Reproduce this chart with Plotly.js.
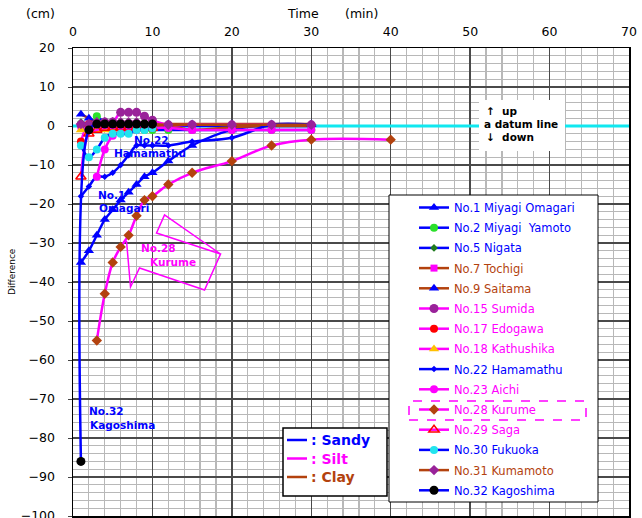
<!DOCTYPE html>
<html>
<head>
<meta charset="utf-8">
<script src="https://cdn.plot.ly/plotly-3.0.1.min.js"></script>
<style>
  html, body { margin: 0; padding: 0; background: #fff; }
  #chart { width: 642px; height: 518px; }
</style>
</head>
<body>
<div id="chart"></div>
<script>
// Settlement difference (cm) against elapsed time (min) at each site.

// ---- time axes (min) ----
const tFull  = [1, 2, 3, 4, 5, 6, 7, 8, 9, 10, 12, 15, 20, 25, 30];
const tEarly = [1, 2, 3, 4, 5, 6, 7, 8, 9, 10];
const tFrom3 = [3, 4, 5, 6, 7, 8, 9, 10, 12, 15, 20, 25, 30];
const tKurume = [3, 4, 5, 6, 7, 8, 9, 10, 12, 15, 20, 25, 30, 40];

// ---- difference values (cm) ----
const omagariY    = [-35, -32, -28, -24, -21.5, -19, -17, -15, -13, -12, -9, -5, -1, 0.3, 0.3];
const yamotoY     = [2.5, 1, 0, -0.5, -1, -1, -1, -1, -1, -1, -1, -1, -1];
const nigataY     = [1, 0.5, 0, 0, 0, 0, 0, 0, 0, 0, 0, 0, 0, 0, 0];
const tochigiY    = [0, 0, 0, 0, 0, 0, 0, 0, 0, 0, 0, -1, -0.3, 0, 0];
const saitamaY    = [3, 2, 1, 0.5, 0.5, 0.5, 0.5, 0.5, 0.5, 0.5, 0.5, 0.5, 0.5, 0.5, 0.5];
const sumidaY     = [0.3, 0.3, 0.5, 1, 1, 3.5, 3.5, 3.5, 2.5, 1.5, 0.3, 0.3, 0.3, 0.3, 0.3];
const edogawaY    = [-4, 0.5, 0.5, 0.5, 0.5, 0.5, 0.5, 0.5, 0.5, 0.5];
const kathushikaY = [-1, -1.5, -1, -1, -1, -0.5, -0.5, -0.5, -0.5, -0.5];
const hamamatsuY  = [-18, -15.5, -13, -13, -12, -10, -7.5, -5, -5, -5, -5, -4, -3, 0.3, 0.3];
const aichiY      = [-13, -6, -2.5, -1.5, -1, -1, -0.5, -0.5, -0.5, -1, -1, -1, -1];
const kurumeY     = [-55, -43, -35, -31, -28, -23, -19, -18, -15, -12, -9, -5, -3.5, -3.5];
const sagaY       = [-13, -2, -1, -0.5, -0.5, -0.5, -0.5, -0.5, -0.5, -0.5];
const fukuokaY    = [-5, -8, -6, -3, -2, -2, -2, -1, -1, -0.5];
const kumamotoY   = [0.5, 0.5, 1, 1, 1, 1, 1, 1, 0.5, 0.5, 0.3, 0.3, 0.3, 0.3, 0.3];
const kagoshimaY  = [-86, -1, 0.5, 0.5, 0.5, 0.5, 0.5, 0.5, 0.5, 0.5];

// datum line
const datumX = [0, 70];
const datumY = [0, 0];

// ---- soil type colours ----
const SANDY = '#0000FF';
const SILT  = '#FF00FF';
const CLAY  = '#B3420E';
const PURPLE = '#992299';

const FONT = 'DejaVu Sans, Arial, sans-serif';

function site(name, x, y, lineColor, textColor, symbol, mColor, mSize, extra) {
  const t = {
    type: 'scatter', mode: 'lines+markers',
    x: x, y: y,
    name: '<span style="color:' + textColor + '">' + name + '</span>',
    legendgroup: name,
    line: { color: lineColor, width: 2.5, shape: 'spline', smoothing: 1 },
    marker: { symbol: symbol, size: mSize, color: mColor, line: { width: 0 } },
    hoverinfo: 'x+y+name'
  };
  if (extra) Object.assign(t.marker, extra);
  return t;
}

const traces = [
  { type: 'scatter', mode: 'lines', x: datumX, y: datumY, showlegend: false,
    line: { color: '#10E8F0', width: 3 }, hoverinfo: 'skip' },
  site('No.1 Miyagi Omagari', tFull, omagariY, SANDY, SANDY, 'triangle-up', SANDY, 9),
  site('No.2 Miyagi\u00A0\u00A0Yamoto', tFrom3, yamotoY, SANDY, SANDY, 'circle', '#2BE02B', 8),
  site('No.5 Nigata', tFull, nigataY, SANDY, SANDY, 'diamond', '#1E7A1E', 6),
  site('No.7 Tochigi', tFull, tochigiY, CLAY, CLAY, 'square', SILT, 7),
  site('No.9 Saitama', tFull, saitamaY, CLAY, CLAY, 'triangle-up', SANDY, 9),
  site('No.15 Sumida', tFull, sumidaY, SILT, SILT, 'circle', PURPLE, 9),
  site('No.17 Edogawa', tEarly, edogawaY, SILT, SILT, 'circle', '#FF0000', 8),
  site('No.18 Kathushika', tEarly, kathushikaY, SILT, SILT, 'triangle-up', '#FFC000', 9),
  site('No.22 Hamamathu', tFull, hamamatsuY, SANDY, SANDY, 'diamond', SANDY, 5),
  site('No.23 Aichi', tFrom3, aichiY, SILT, SILT, 'circle', SILT, 8),
  site('No.28 Kurume', tKurume, kurumeY, SILT, SILT, 'diamond', CLAY, 8),
  site('No.29 Saga', tEarly, sagaY, SILT, SILT, 'triangle-up-open', '#FF0000', 9, { line: { width: 1.5, color: '#FF0000' } }),
  site('No.30 Fukuoka', tEarly, fukuokaY, SANDY, SANDY, 'circle', '#22E4EE', 8),
  site('No.31 Kumamoto', tFull, kumamotoY, CLAY, CLAY, 'diamond', PURPLE, 8),
  site('No.32 Kagoshima', tEarly, kagoshimaY, SANDY, SANDY, 'circle', '#000000', 9)
];

// pixel -> paper helpers for the plot box (l=73, t=48, w=556, h=468)
const px = x => (x - 73) / 556;
const py = y => (516 - y) / 468;
// pixel -> data helpers for the callout outline
const dx = x => (x - 73.5) / 7.94;
const dy = y => (126 - y) / 3.9;

const callout = [[127, 241], [131, 287], [140, 268], [205, 290], [221, 254], [157, 233], [165, 215], [221, 254]];
const calloutPath = callout.map((p, i) => (i ? 'L' : 'M') + dx(p[0]).toFixed(3) + ',' + dy(p[1]).toFixed(3)).join(' ');

const shapes = [
  // white panel behind the site legend
  { type: 'rect', xref: 'paper', yref: 'paper', x0: px(389), x1: px(598), y0: py(502), y1: py(195),
    fillcolor: '#FFFFFF', line: { color: '#000000', width: 1 }, layer: 'above' },
  // dashed frame around the Kurume entry
  { type: 'rect', xref: 'paper', yref: 'paper', x0: px(409), x1: px(586), y0: py(420), y1: py(401),
    line: { color: SILT, width: 1.5, dash: 'dash' }, layer: 'above' },
  // soil key panel
  { type: 'rect', xref: 'paper', yref: 'paper', x0: px(283), x1: px(387), y0: py(496), y1: py(428),
    fillcolor: '#FFFFFF', line: { color: '#000000', width: 1.5 }, layer: 'above' },
  { type: 'line', xref: 'paper', yref: 'paper', x0: px(287), x1: px(307), y0: py(440), y1: py(440),
    line: { color: SANDY, width: 2.5 }, layer: 'above' },
  { type: 'line', xref: 'paper', yref: 'paper', x0: px(287), x1: px(307), y0: py(458.5), y1: py(458.5),
    line: { color: SILT, width: 2.5 }, layer: 'above' },
  { type: 'line', xref: 'paper', yref: 'paper', x0: px(287), x1: px(307), y0: py(477), y1: py(477),
    line: { color: CLAY, width: 2.5 }, layer: 'above' },
  // white label panel on the datum line
  { type: 'rect', xref: 'paper', yref: 'paper', x0: px(479), x1: px(565), y0: py(151), y1: py(100),
    fillcolor: '#FFFFFF', line: { width: 0 }, layer: 'above' },
  // callout for No.28 Kurume
  { type: 'path', xref: 'x', yref: 'y', path: calloutPath,
    line: { color: SILT, width: 1.5 }, layer: 'above' }
];

function label(text, x, y, color, size, opts) {
  return Object.assign({
    text: text, xref: 'paper', yref: 'paper', x: px(x), y: py(y),
    xanchor: 'left', yanchor: 'middle', showarrow: false,
    font: { family: FONT, size: size, color: color }
  }, opts || {});
}

const annotations = [
  label('(cm)', 40, 13, '#000', 12.5, { xanchor: 'center' }),
  label('Time', 302.5, 13, '#000', 12.5, { xanchor: 'center' }),
  label('(min)', 361, 13, '#000', 12.5, { xanchor: 'center' }),
  label('Difference', 12, 272, '#000', 9, { xanchor: 'center', textangle: -90 }),
  label('<b>No.22</b>', 132, 139.5, SANDY, 10.5),
  label('<b>Hamamathu</b>', 112, 152.5, SANDY, 10.5),
  label('<b>No.1</b>', 96, 194.5, SANDY, 10.5),
  label('<b>Omagari</b>', 97, 207.5, SANDY, 10.5),
  label('<b>No.28</b>', 139, 247.5, SILT, 10.5),
  label('<b>Kurume</b>', 148, 261.5, SILT, 10.5),
  label('<b>No.32</b>', 87, 411, SANDY, 10.5),
  label('<b>Kagoshima</b>', 88, 425, SANDY, 10.5),
  label('<b>\u2191\u00A0\u00A0up</b>', 484, 111.5, '#000', 10.5),
  label('<b>a datum line</b>', 482, 124.5, '#000', 10.5),
  label('<b>\u2193\u00A0\u00A0down</b>', 484, 136.5, '#000', 10.5),
  label('<b>: Sandy</b>', 309, 440, SANDY, 14),
  label('<b>: Silt</b>', 309, 458.5, SILT, 14),
  label('<b>: Clay</b>', 309, 477, CLAY, 14)
];

const layout = {
  width: 642, height: 518,
  margin: { l: 73, r: 13, t: 48, b: 2, autoexpand: false },
  paper_bgcolor: '#FFFFFF', plot_bgcolor: '#FFFFFF',
  font: { family: FONT, size: 12.5, color: '#000' },
  showlegend: true,
  legend: {
    x: px(414), y: py(193), xanchor: 'left', yanchor: 'top',
    bgcolor: 'rgba(0,0,0,0)', borderwidth: 0,
    font: { family: FONT, size: 11.5 },
    tracegroupgap: 1.2, traceorder: 'grouped', itemwidth: 30
  },
  xaxis: {
    range: [0, 70], side: 'top', dtick: 10, tick0: 0,
    showgrid: true, gridcolor: '#4a4a4a', gridwidth: 1.5,
    showline: true, mirror: true, linecolor: '#000', linewidth: 1.5,
    ticks: '', ticklabelstandoff: 6, zeroline: false,
    tickfont: { family: FONT, size: 12.5, color: '#000' },
    minor: { dtick: 2, showgrid: true, gridcolor: '#b8b8b8', gridwidth: 1.2 }
  },
  yaxis: {
    range: [-100, 20], dtick: 10, tick0: 0,
    showgrid: true, gridcolor: '#4a4a4a', gridwidth: 1.5,
    showline: true, mirror: true, linecolor: '#000', linewidth: 1.5,
    ticks: 'outside', ticklen: 4, tickcolor: '#444', ticklabelstandoff: 10, zeroline: false,
    ticklabeloverflow: 'allow',
    tickfont: { family: FONT, size: 12.5, color: '#000' },
    minor: { dtick: 2, showgrid: true, gridcolor: '#b8b8b8', gridwidth: 1.2 }
  },
  shapes: shapes,
  annotations: annotations
};

Plotly.newPlot('chart', traces, layout, { displayModeBar: false, staticPlot: true });
</script>
</body>
</html>
